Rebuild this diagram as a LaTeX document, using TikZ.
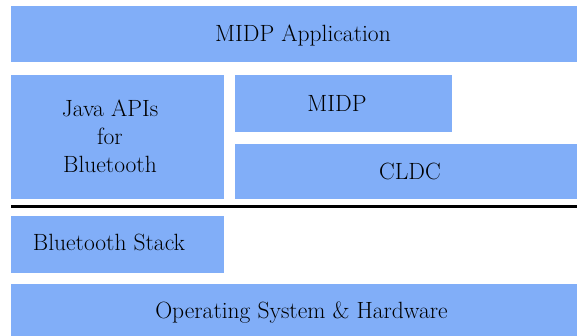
\documentclass[tikz,border=0pt]{standalone}
\definecolor{boxblue}{RGB}{129,174,248}
\begin{document}
\begin{tikzpicture}[x=1pt,y=1pt,
  box/.style={fill=boxblue,draw=none,inner sep=0pt,outer sep=0pt,rectangle},
  lbl/.style={inner sep=0pt,font=\fontsize{23.5}{28}\selectfont,text=black},
  sep/.style={line width=3pt,draw=black}]
\useasboundingbox (0,0) rectangle (577,336);
\node[box,minimum width=566pt,minimum height=55.5pt] (app) at (294,301.75) {};
\node[box,minimum width=213pt,minimum height=124pt] (java) at (117.5,199) {};
\node[box,minimum width=217pt,minimum height=57pt] (midp) at (343.5,232.5) {};
\node[box,minimum width=342pt,minimum height=55pt] (cldc) at (406,164.5) {};
\node[box,minimum width=213pt,minimum height=57pt] (bt) at (117.5,91.5) {};
\node[box,minimum width=566pt,minimum height=52pt] (os) at (294,26) {};
\coordinate (sepL) at (11,129);
\coordinate (sepR) at (577,129);
\draw[sep] (sepL) -- (sepR);
\node[lbl,anchor=base] (appt) at (303,294) {MIDP Application};
\node[lbl,align=center,anchor=center] (javat) at (110,200) {Java APIs\\for\\Bluetooth};
\node[lbl,anchor=base] (midpt) at (337,224) {MIDP};
\node[lbl,anchor=base] (cldct) at (410,156) {CLDC};
\node[lbl,anchor=base] (btt) at (109,85) {Bluetooth Stack};
\node[lbl,anchor=base] (ost) at (301.5,17) {Operating System \& Hardware};
\end{tikzpicture}
\end{document}
